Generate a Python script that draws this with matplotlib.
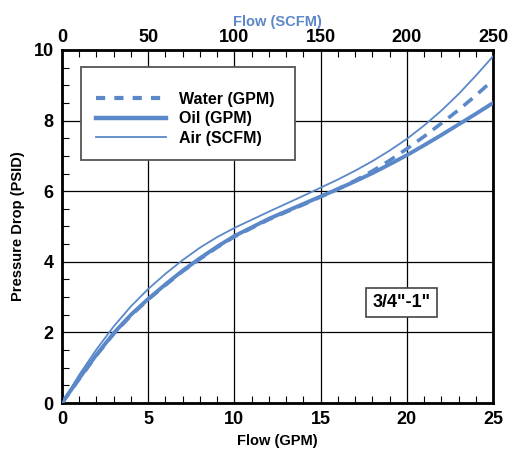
import matplotlib
matplotlib.use("Agg")
import matplotlib.pyplot as plt
from matplotlib.ticker import MultipleLocator
from matplotlib.lines import Line2D
from matplotlib.patches import Rectangle

plt.rcParams['font.family'] = ['Liberation Sans', 'DejaVu Sans']
plt.rcParams['font.weight'] = 'bold'

gpm = [0, 1, 2, 3, 4, 5, 6, 7, 8, 9, 10, 12, 14, 15, 16, 17, 18, 19, 20, 21, 22, 23, 24, 25]
oil = [0, 0.7, 1.37, 1.98, 2.5, 2.95, 3.36, 3.75, 4.1, 4.43, 4.73, 5.22, 5.64, 5.85, 6.06, 6.28, 6.51, 6.76, 7.02, 7.3, 7.59, 7.89, 8.19, 8.5]
water = [0, 0.68, 1.35, 1.96, 2.48, 2.93, 3.34, 3.73, 4.08, 4.41, 4.71, 5.2, 5.62, 5.84, 6.06, 6.3, 6.57, 6.87, 7.2, 7.55, 7.92, 8.3, 8.71, 9.15]
scfm = [0, 10, 20, 30, 40, 50, 60, 70, 80, 90, 100, 120, 140, 150, 160, 170, 180, 190, 200, 210, 220, 230, 240, 250]
air = [0, 0.8, 1.52, 2.17, 2.74, 3.23, 3.66, 4.05, 4.4, 4.7, 4.96, 5.42, 5.87, 6.1, 6.33, 6.58, 6.85, 7.15, 7.48, 7.86, 8.28, 8.75, 9.27, 9.82]

blue = '#5b88c9'

fig = plt.figure(figsize=(5.13, 4.57), dpi=100)
ax = fig.add_axes([62/513, 54/457, 431/513, 353/457])
ax.set_xlim(0, 25)
ax.set_ylim(0, 10)
ax.xaxis.set_major_locator(MultipleLocator(5))
ax.xaxis.set_minor_locator(MultipleLocator(1))
ax.yaxis.set_major_locator(MultipleLocator(2))
ax.yaxis.set_minor_locator(MultipleLocator(0.5))
ax.grid(True, which='major', color='black', linewidth=0.9)
ax.tick_params(which='major', length=0, labelsize=13, pad=6)
ax.tick_params(which='minor', direction='in', length=5, width=0.8)
for s in ax.spines.values():
    s.set_linewidth(2)
for lab in ax.get_xticklabels() + ax.get_yticklabels():
    lab.set_fontweight('bold')

ax.plot(gpm, water, color=blue, linewidth=2.6, dashes=(3.2, 2.2), zorder=3)
ax.plot(gpm, oil, color=blue, linewidth=2.8, zorder=3)

ax2 = ax.twiny()
ax2.set_xlim(0, 250)
ax2.xaxis.set_major_locator(MultipleLocator(50))
ax2.xaxis.set_minor_locator(MultipleLocator(10))
ax2.tick_params(which='major', length=0, labelsize=13, pad=3)
ax2.tick_params(which='minor', direction='in', length=5, width=0.8)
for lab in ax2.get_xticklabels():
    lab.set_fontweight('bold')
ax2.plot(scfm, air, color=blue, linewidth=1.3, zorder=3)
ax2.set_ylim(0, 10)
ax2.set_xlabel('Flow (SCFM)', color=blue, fontsize=10.5, fontweight='bold', labelpad=2)

ax.set_xlabel('Flow (GPM)', fontsize=10.5, fontweight='bold', labelpad=4)
ax.set_ylabel('Pressure Drop (PSID)', fontsize=10.5, fontweight='bold', labelpad=6)

# legend frame
ax2.add_patch(Rectangle((19/431, (403-160)/353), 214/431, 93/353, transform=ax2.transAxes,
                        facecolor='white', edgecolor='#555555', linewidth=1.3, zorder=4))
handles = [Line2D([], [], color=blue, linewidth=3, dashes=(2.2, 2.2)),
           Line2D([], [], color=blue, linewidth=3.2),
           Line2D([], [], color=blue, linewidth=1.3)]
leg = ax2.legend(handles, ['Water (GPM)', 'Oil (GPM)', 'Air (SCFM)'],
                 loc='center left', bbox_to_anchor=((96-62)/431, (403-119)/353),
                 frameon=False, borderpad=0, borderaxespad=0,
                 handlelength=4.4, handletextpad=0.8, labelspacing=0.28,
                 prop={'weight': 'bold', 'size': 11.5})
leg.set_zorder(5)

ax2.text(19.7 * 10, 2.85, '3/4"-1"', fontsize=13, fontweight='bold', ha='center', va='center',
         bbox=dict(boxstyle='square,pad=0.35', facecolor='white', edgecolor='#444444', linewidth=1.2),
         zorder=5)

fig.savefig('out.png', dpi=100)
